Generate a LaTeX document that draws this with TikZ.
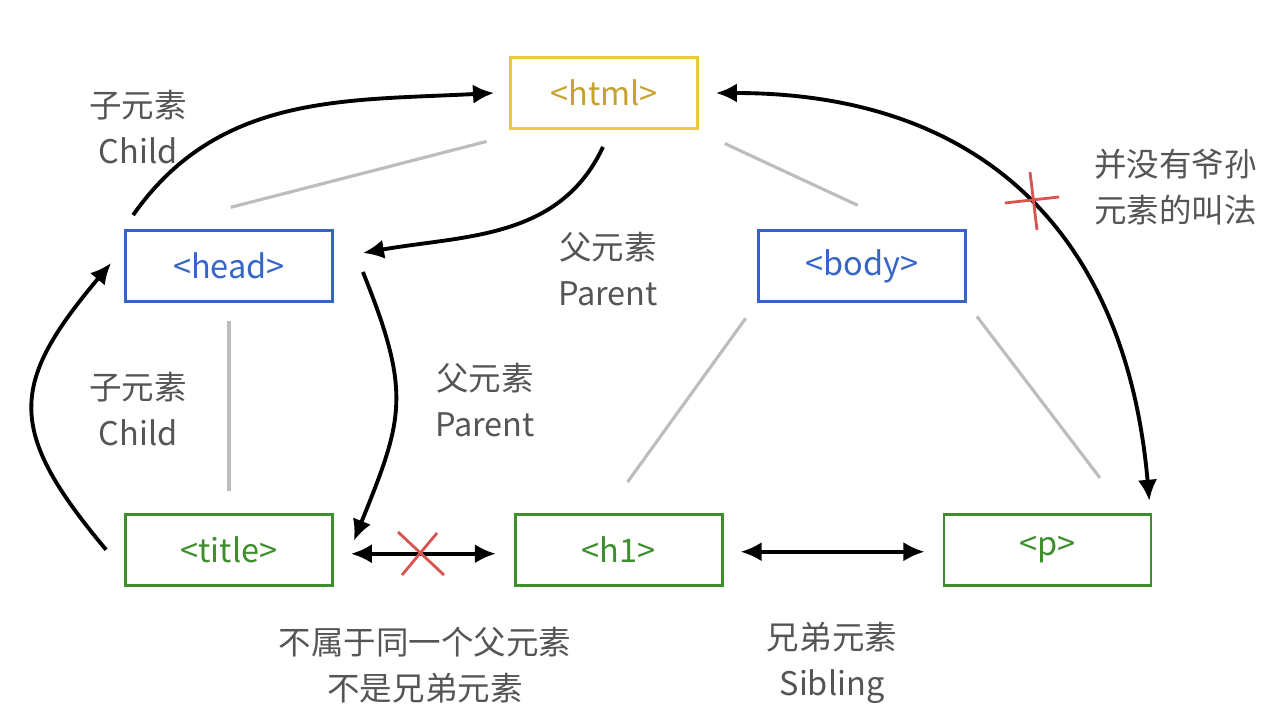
\documentclass[tikz,border=0pt]{standalone}
\usepackage{fontspec}
\setmainfont{Noto Sans CJK SC}
\usetikzlibrary{arrows.meta, positioning}
\usepackage{xcolor}
\definecolor{htmlgold}{HTML}{EACB3B}
\definecolor{htmltext}{HTML}{C8A32C}
\definecolor{headblue}{HTML}{3566C6}
\definecolor{leafgreen}{HTML}{3E8E2E}
\definecolor{treegray}{HTML}{BDBDBD}
\definecolor{notegray}{HTML}{555555}
\definecolor{crossred}{HTML}{D9534F}

\begin{document}
\begin{tikzpicture}[x=0.02cm, y=0.02cm,
    tag/.style={rectangle, draw, line width=1.6pt, minimum width=4.14cm, minimum height=1.42cm, inner sep=0pt, font=\fontsize{18.5}{22}\selectfont},
    tree/.style={draw=treegray, line width=1.8pt},
    rel/.style={line width=2.2pt, -{Latex[length=12pt, width=11pt]}},
    twoway/.style={line width=2.2pt, {Latex[length=12pt, width=11pt]}-{Latex[length=12pt, width=11pt]}},
    note/.style={text=notegray, align=center, font=\fontsize{18.5}{26.5}\selectfont},
    nocross/.style={draw=crossred, line width=1.6pt}
]
\useasboundingbox (0,0) rectangle (1269,717);

\node[tag, draw=htmlgold, text=htmltext, minimum width=3.74cm] (html) at (604,624) {<html>};
\node[tag, draw=headblue, text=headblue] (head) at (229,451) {<head>};
\node[tag, draw=headblue, text=headblue, right=8.46cm of head] (body) {<body>};
\node[tag, draw=leafgreen, text=leafgreen, below=4.2cm of head] (title) {<title>};
\node[tag, draw=leafgreen, text=leafgreen, right=3.6cm of title] (h1) {<h1>};
\node[tag, draw=leafgreen, text=leafgreen, right=4.38cm of h1] (p) {<p>};

% tree lines
\draw[tree, shorten <=0.93cm, shorten >=1.75cm] (html.207) -- (head.156);
\draw[tree, shorten <=0.65cm, shorten >=1.13cm] (html.338) -- (body.38);
\draw[tree, shorten <=0.37cm, shorten >=0.43cm] (head.south) -- (title.north);
\draw[tree, shorten <=0.38cm, shorten >=0.76cm] (body.south west) -- (h1.110);
\draw[tree, shorten <=0.34cm, shorten >=0.88cm] (body.south east) -- (p.25);

% relations
\draw[rel] ([shift={(9,14)}]head.north west) to[out=55, in=183] ([shift={(-15,0)}]html.west);
\draw[rel] ([shift={(-1,-17)}]html.south) to[out=245, in=10] ([shift={(29,13)}]head.east);
\draw[rel] ([shift={(-18,0)}]title.west) to[out=130, in=230, looseness=1.4] ([shift={(-13,3)}]head.west);
\draw[rel] ([shift={(29,-6)}]head.east) to[out=-68, in=68, looseness=1.25] ([shift={(20,9)}]title.east);
\draw[twoway] ([shift={(17,-4)}]title.east) -- ([shift={(-18,-4)}]h1.west);
\draw[twoway] ([shift={(17,-2)}]h1.east) -- ([shift={(-18,-2)}]p.west);
\draw[twoway] ([shift={(17,0)}]html.east) to[out=0, in=95, looseness=1.15] ([shift={(-3,12)}]p.north east);

% red crosses
\coordinate (cutA) at (420,163);
\draw[nocross] ([shift={(-22,22)}]cutA) -- ([shift={(24,-21)}]cutA);
\draw[nocross] ([shift={(17,21)}]cutA) -- ([shift={(-18,-21)}]cutA);
\coordinate (cutB) at (1032,516);
\draw[nocross] ([shift={(-27,-2)}]cutB) -- ([shift={(27,4)}]cutB);
\draw[nocross] ([shift={(-2,29)}]cutB) -- ([shift={(5,-29)}]cutB);

% labels
\node[note] (childtop) at (138,590) {子元素\\Child};
\node[note] (parenttop) at (608,448) {父元素\\Parent};
\node[note] (childleft) at (138,308) {子元素\\Child};
\node[note] (parentleft) at (485,317) {父元素\\Parent};
\node[note, align=left, anchor=west] (nograndson) at (1088,530) {并没有爷孙\\元素的叫法};
\node[note] (notsibling) at (425,52) {不属于同一个父元素\\不是兄弟元素};
\node[note] (sibling) at (832,54) {兄弟元素\\Sibling};
\end{tikzpicture}
\end{document}
